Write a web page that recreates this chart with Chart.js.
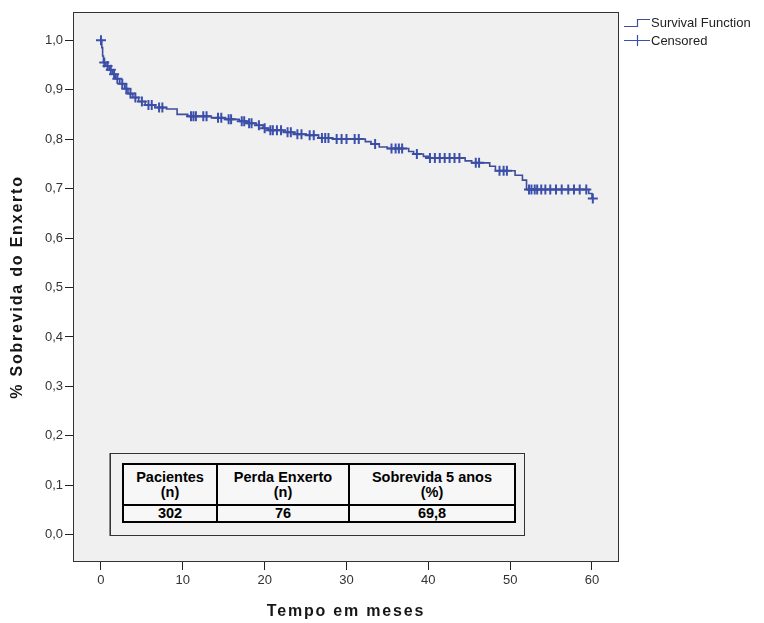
<!DOCTYPE html>
<html>
<head>
<meta charset="utf-8">
<script src="https://cdn.jsdelivr.net/npm/chart.js@4.4.1/dist/chart.umd.min.js"></script>
<style>
    html, body { margin: 0; padding: 0; background: #fff; }
    #wrap { position: relative; width: 764px; height: 623px; }
    #grafico { position: absolute; left: 0; top: 0; }
    #caixa {
        position: absolute; left: 110px; top: 453px; width: 413px; height: 81px;
        border: 1px solid #333; background: #f0f0f0; box-shadow: -1px 0 0 #888;
    }
    #tabela {
        position: absolute; left: 11px; top: 9px; width: 394px; height: 60px;
        border-collapse: collapse; background: #f7f7f7;
        font: bold 14.5px "Liberation Sans", Arial, sans-serif; color: #000;
    }
    #tabela td { border: 2px solid #000; text-align: center; padding: 0; line-height: 15px; }
</style>
</head>
<body>
<div id="wrap">
    <canvas id="grafico" width="764" height="623"></canvas>
    <div id="caixa">
        <table id="tabela">
            <tr style="height:41px">
                <td style="width:92px">Pacientes<br>(n)</td>
                <td style="width:130px">Perda Enxerto<br>(n)</td>
                <td>Sobrevida 5 anos<br>(%)</td>
            </tr>
            <tr>
                <td>302</td>
                <td>76</td>
                <td>69,8</td>
            </tr>
        </table>
    </div>
</div>
<script>
// Kaplan-Meier: meses em que houve perda e sobrevida logo depois
const tempos = [0, 0.1, 0.2, 0.3, 0.6, 1.0, 1.4, 1.8, 2.3, 2.9, 3.3, 3.9, 4.6, 5.4, 6.6, 8.0,
    9.3, 10.6, 13.5, 15.2, 16.9, 17.8, 19.0, 19.8, 20.4, 22.3, 23.6, 25.1, 26.6, 28.3,
    32.3, 33.0, 34.0, 35.0, 37.6, 38.2, 39.4, 40.0, 44.5, 45.3, 47.5, 48.2, 50.6, 51.5,
    52.0, 59.6, 60.0];
const sobrevida = [1.0, 0.985, 0.968, 0.955, 0.948, 0.940, 0.931, 0.922, 0.912, 0.902, 0.892,
    0.884, 0.876, 0.869, 0.864, 0.861, 0.850, 0.846, 0.843, 0.840, 0.836, 0.832, 0.828,
    0.822, 0.818, 0.814, 0.810, 0.808, 0.802, 0.800, 0.795, 0.790, 0.784, 0.781, 0.775,
    0.770, 0.765, 0.762, 0.756, 0.752, 0.745, 0.736, 0.727, 0.717, 0.698, 0.690, 0.680];

// tempos dos pacientes censurados
const censurados = [0, 0.4, 0.8, 1.2, 1.6, 2.0, 2.6, 3.1, 3.6, 4.2, 5.0, 5.8, 6.2, 7.1, 7.5,
    11.0, 11.3, 11.6, 12.5, 12.9, 14.3, 14.7, 15.6, 15.9, 17.2, 17.5, 18.1, 18.4, 19.3,
    20.0, 20.7, 21.0, 21.5, 22.0, 22.8, 23.2, 24.0, 24.5, 25.5, 26.0, 27.0, 27.4, 27.8,
    28.8, 29.4, 30.0, 31.0, 31.5, 33.5, 35.5, 36.0, 36.4, 36.8, 38.6, 40.2, 40.8, 41.4,
    42.0, 42.6, 43.2, 43.8, 45.8, 46.2, 48.7, 49.2, 49.6, 52.3, 52.6, 53.0, 53.3, 53.8,
    54.3, 54.9, 55.6, 56.3, 57.1, 57.8, 58.5, 59.3, 60.1];

const xTicks = [0, 10, 20, 30, 40, 50, 60];
const yTicks = [0, 0.1, 0.2, 0.3, 0.4, 0.5, 0.6, 0.7, 0.8, 0.9, 1.0];

const corLinha = '#3f4d9c';
const corMarca = '#3a50b0';
const fonte = '"Liberation Sans", Arial, sans-serif';

function sobrevidaEm(t) {
    let s = sobrevida[0];
    for (let i = 0; i < tempos.length; i++) {
        if (tempos[i] <= t) s = sobrevida[i];
    }
    return s;
}

const curva = tempos.map((t, i) => ({ x: t, y: sobrevida[i] }));
const marcas = censurados.map(t => ({ x: t, y: sobrevidaEm(t) }));

// fundo cinza, moldura, titulos dos eixos e legenda
const molduraPlugin = {
    id: 'moldura',
    beforeDraw(chart) {
        const { ctx, chartArea: a } = chart;
        ctx.save();
        ctx.fillStyle = '#f0f0f0';
        ctx.fillRect(a.left, a.top, a.right - a.left, a.bottom - a.top);
        ctx.restore();
    },
    afterDraw(chart) {
        const { ctx, chartArea: a } = chart;
        ctx.save();
        ctx.strokeStyle = '#333';
        ctx.lineWidth = 1;
        ctx.strokeRect(a.left + 0.5, a.top + 0.5, a.right - a.left - 1, a.bottom - a.top - 1);

        ctx.fillStyle = '#161616';
        ctx.font = 'bold 16px ' + fonte;
        ctx.letterSpacing = '1.8px';
        ctx.textAlign = 'center';
        ctx.textBaseline = 'middle';
        ctx.fillText('Tempo em meses', (a.left + a.right) / 2, 612);
        ctx.translate(18, (a.top + a.bottom) / 2);
        ctx.rotate(-Math.PI / 2);
        ctx.fillText('% Sobrevida do Enxerto', 0, 0);
        ctx.restore();

        // legenda
        ctx.save();
        ctx.strokeStyle = corLinha;
        ctx.lineWidth = 1.2;
        ctx.beginPath();
        ctx.moveTo(624, 26.5);
        ctx.lineTo(637.5, 26.5);
        ctx.lineTo(637.5, 19.5);
        ctx.lineTo(650, 19.5);
        ctx.stroke();
        ctx.strokeStyle = corMarca;
        ctx.beginPath();
        ctx.moveTo(624, 40.5);
        ctx.lineTo(650, 40.5);
        ctx.moveTo(637.5, 35);
        ctx.lineTo(637.5, 46);
        ctx.stroke();
        ctx.fillStyle = '#222';
        ctx.font = '13px ' + fonte;
        ctx.textBaseline = 'middle';
        ctx.fillText('Survival Function', 651, 23);
        ctx.fillText('Censored', 651, 41);
        ctx.restore();
    }
};

new Chart(document.getElementById('grafico'), {
    type: 'line',
    data: {
        datasets: [{
            label: 'Survival Function',
            data: curva,
            stepped: true,
            borderColor: corLinha,
            borderWidth: 1.6,
            pointRadius: 0,
            fill: false
        }, {
            type: 'scatter',
            label: 'Censored',
            data: marcas,
            showLine: false,
            pointStyle: 'cross',
            pointRadius: 5,
            borderColor: corMarca,
            borderWidth: 2
        }]
    },
    options: {
        responsive: false,
        animation: false,
        layout: { padding: { top: 12, right: 145, left: 0, bottom: 0 } },
        plugins: { legend: { display: false }, tooltip: { enabled: false } },
        scales: {
            x: {
                type: 'linear',
                min: -3.42,
                max: 63.3,
                afterBuildTicks: s => { s.ticks = xTicks.map(v => ({ value: v })); },
                afterFit: s => { s.height = 61; },
                grid: { drawOnChartArea: false, tickLength: 8, color: '#222', tickWidth: 1 },
                border: { display: false },
                ticks: { color: '#333', font: { family: fonte, size: 13 }, padding: 3, maxRotation: 0 }
            },
            y: {
                min: -0.055,
                max: 1.057,
                afterBuildTicks: s => { s.ticks = yTicks.map(v => ({ value: v })); },
                afterFit: s => { s.width = 73; },
                grid: { drawOnChartArea: false, tickLength: 8, color: '#222', tickWidth: 1 },
                border: { display: false },
                ticks: {
                    color: '#333', font: { family: fonte, size: 13 }, padding: 2,
                    callback: v => v.toFixed(1).replace('.', ',')
                }
            }
        }
    },
    plugins: [molduraPlugin]
});
</script>
</body>
</html>
